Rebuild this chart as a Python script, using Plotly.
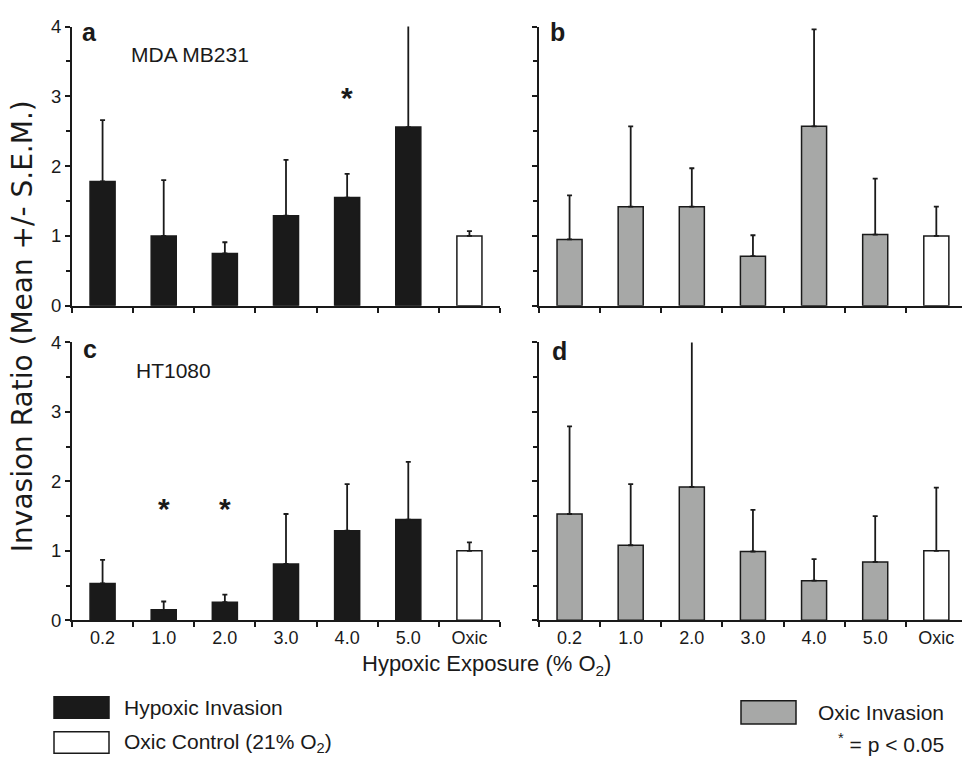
import plotly.graph_objects as go

categories = ["0.2", "1.0", "2.0", "3.0", "4.0", "5.0", "Oxic"]

# Panel a: MDA MB231, hypoxic invasion
mean_a = [1.78, 1.00, 0.75, 1.29, 1.55, 2.56, 1.00]
sem_a = [0.88, 0.80, 0.16, 0.80, 0.34, 1.74, 0.07]
# Panel b: MDA MB231, oxic invasion
mean_b = [0.95, 1.42, 1.42, 0.71, 2.57, 1.02, 1.00]
sem_b = [0.63, 1.15, 0.55, 0.30, 1.39, 0.80, 0.42]
# Panel c: HT1080, hypoxic invasion
mean_c = [0.53, 0.15, 0.26, 0.81, 1.29, 1.45, 1.00]
sem_c = [0.34, 0.12, 0.11, 0.72, 0.67, 0.83, 0.12]
# Panel d: HT1080, oxic invasion
mean_d = [1.53, 1.08, 1.92, 0.99, 0.57, 0.84, 1.00]
sem_d = [1.26, 0.88, 2.10, 0.60, 0.31, 0.66, 0.91]

# significance marks (p < 0.05)
sig_a_x = ["4.0"]
sig_a_y = [3.04]
sig_c_x = ["1.0", "2.0"]
sig_c_y = [1.66, 1.66]

y_ticks = [0, 1, 2, 3, 4]

INK = "#1a1a1a"
BLACK = "#1a1a1a"
GRAY = "#a7a8a7"
WHITE = "#ffffff"
FONT = "Liberation Sans, Arial, Helvetica, sans-serif"

W, H = 962, 772

fig = go.Figure()

panels = [
    ("x", "y", mean_a, sem_a, BLACK),
    ("x2", "y2", mean_b, sem_b, GRAY),
    ("x3", "y3", mean_c, sem_c, BLACK),
    ("x4", "y4", mean_d, sem_d, GRAY),
]
for xa, ya, m, s, col in panels:
    colors = [col] * (len(categories) - 1) + [WHITE]
    fig.add_trace(go.Bar(
        x=categories, y=m, xaxis=xa, yaxis=ya,
        marker=dict(color=colors, line=dict(color=INK, width=1.5)),
        error_y=dict(type="data", array=s, arrayminus=[0] * len(s), symmetric=False,
                     color=INK, thickness=1.8, width=2.5),
        showlegend=False, hoverinfo="skip",
    ))

left_dom = [72 / W, 500 / W]
right_dom = [539 / W, 1.0]
top_dom = [1 - 303 / H, 1 - 16 / H]
bot_dom = [1 - 626.3 / H, 1 - 340.7 / H]

def xax(dom, rng, labels):
    return dict(domain=dom, type="category", range=rng, categoryorder="array",
                categoryarray=categories, showline=True, linecolor=INK, linewidth=2,
                ticks="outside", tickson="boundaries", ticklen=5, tickwidth=1.5,
                tickcolor=INK, showticklabels=labels, showgrid=False, zeroline=False,
                tickfont=dict(family=FONT, size=18, color=INK))

def yax(dom, anchor, labels):
    return dict(domain=dom, anchor=anchor, range=[0, 4], tickvals=y_ticks,
                showline=True, linecolor=INK, linewidth=2, ticks="outside",
                ticklen=5, tickwidth=1.5, tickcolor=INK, showticklabels=labels,
                showgrid=False, zeroline=False,
                minor=dict(dtick=0.5, ticks="outside", ticklen=4, tickwidth=1.5, tickcolor=INK),
                tickfont=dict(family=FONT, size=18.5, color=INK))

fig.update_layout(
    width=W, height=H, margin=dict(l=0, r=0, t=0, b=0),
    paper_bgcolor="white", plot_bgcolor="white", bargap=0.59,
    font=dict(family=FONT, color=INK),
    xaxis=dict(**xax(left_dom, [-0.5, 6.5], False), anchor="y"),
    xaxis2=dict(**xax(right_dom, [-0.5, 6.42], False), anchor="y2"),
    xaxis3=dict(**xax(left_dom, [-0.5, 6.5], True), anchor="y3"),
    xaxis4=dict(**xax(right_dom, [-0.5, 6.42], True), anchor="y4"),
    yaxis=yax(top_dom, "x", True),
    yaxis2=yax(top_dom, "x2", False),
    yaxis3=yax(bot_dom, "x3", True),
    yaxis4=yax(bot_dom, "x4", False),
)

ann = []
# significance stars
for xs, ys, xr, yr in [(sig_a_x, sig_a_y, "x", "y"), (sig_c_x, sig_c_y, "x3", "y3")]:
    for xv, yv in zip(xs, ys):
        ann.append(dict(x=xv, y=yv, xref=xr, yref=yr, text="<b>*</b>", showarrow=False,
                        font=dict(size=30, family=FONT, color=INK), yshift=-4))

def paper_text(text, x, y, size, xanchor="left", bold=False, angle=0, family=FONT):
    t = f"<b>{text}</b>" if bold else text
    return dict(x=x / W, y=1 - y / H, xref="paper", yref="paper", text=t, showarrow=False,
                xanchor=xanchor, yanchor="middle", textangle=angle,
                font=dict(size=size, family=family, color=INK))

# panel letters and cell line names
ann.append(paper_text("a", 80, 22, 25, bold=True))
ann.append(paper_text("b", 548, 22, 25, bold=True))
ann.append(paper_text("c", 81, 347, 25, bold=True))
ann.append(paper_text("d", 550, 349, 25, bold=True))
ann.append(paper_text("MDA MB231", 129, 45, 21))
ann.append(paper_text("HT1080", 134, 370, 21))
# axis titles
ann.append(paper_text("Hypoxic Exposure (% O<sub>2</sub>)", 487, 672, 22, xanchor="center"))
ann.append(paper_text("Invasion Ratio (Mean +/- S.E.M.)", 22, 324, 28, xanchor="center",
                      angle=-90, family="DejaVu Sans, Liberation Sans, sans-serif"))
# legend
ann.append(paper_text("Hypoxic Invasion", 122, 716, 21))
ann.append(paper_text("Oxic Control (21% O<sub>2</sub>)", 122, 752, 21))
ann.append(paper_text("Oxic Invasion", 946, 721, 21, xanchor="right"))
ann.append(paper_text("<sup>*</sup> = p &lt; 0.05", 946, 752, 21, xanchor="right"))
fig.update_layout(annotations=ann)

def box(x0, y0, x1, y1, fill):
    return dict(type="rect", xref="paper", yref="paper", x0=x0 / W, x1=x1 / W,
                y0=1 - y1 / H, y1=1 - y0 / H, fillcolor=fill,
                line=dict(color=INK, width=1.5))

fig.update_layout(shapes=[
    box(54, 705, 109, 727, BLACK),
    box(54, 741, 109, 763, WHITE),
    box(741, 709, 796, 733, GRAY),
])

fig.write_html("out.html", config={"displayModeBar": False},
               post_script="document.body.style.margin='0';")
